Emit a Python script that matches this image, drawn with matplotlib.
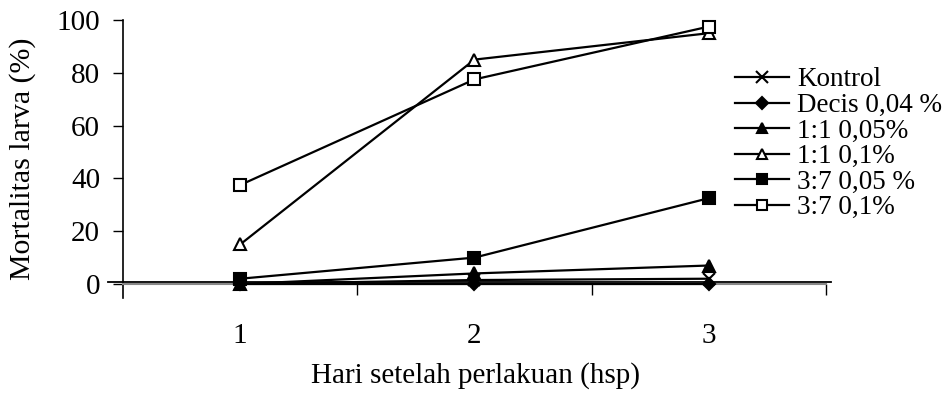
import matplotlib
matplotlib.use("Agg")
import matplotlib.pyplot as plt
import matplotlib.transforms as mtransforms

# days after treatment
days = [1, 2, 3]
day_labels = ["1", "2", "3"]

# larval mortality (%) per treatment
kontrol = [0, 1.5, 2]
decis = [0, 0, 0]
p11_005 = [0, 4, 7]
p11_01 = [15, 85, 95]
p37_005 = [2, 10, 32.5]
p37_01 = [37.5, 77.5, 97.5]

series = [
    ("Kontrol", kontrol, "x", "black"),
    ("Decis 0,04 %", decis, "D", "black"),
    ("1:1 0,05%", p11_005, "^", "black"),
    ("1:1 0,1%", p11_01, "^", "white"),
    ("3:7 0,05 %", p37_005, "s", "black"),
    ("3:7 0,1%", p37_01, "s", "white"),
]

plt.rcParams["font.family"] = ["Liberation Serif", "DejaVu Serif"]

fig = plt.figure(figsize=(9.47, 3.97), dpi=100)
ax = fig.add_axes([0.130, 0.2494, 0.742, 0.7002])

for label, vals, marker, face in series:
    ms = 6 if marker == "D" else 8
    if marker == "x":
        ms = 9
    ax.plot(days, vals, color="black", lw=1.6, marker=marker, markersize=ms,
            markerfacecolor=face, markeredgecolor="black", markeredgewidth=1.5,
            label=label, clip_on=False, zorder=3)

ax.set_xlim(0.5, 3.5)
ax.set_ylim(-5.3, 100)

for s in ["top", "right"]:
    ax.spines[s].set_visible(False)
ax.spines["bottom"].set_position(("data", 0))
ax.spines["bottom"].set_color("#888888")
ax.spines["bottom"].set_linewidth(1.5)
ax.spines["left"].set_linewidth(1.2)

# extra black line just above the axis, as in the original
trans = mtransforms.blended_transform_factory(ax.transAxes, ax.transData)
ax.plot([-0.022, 1.008], [0.9, 0.9], color="black", lw=1.3, transform=trans,
        clip_on=False, zorder=2)

ax.set_yticks([0, 20, 40, 60, 80, 100])
ax.tick_params(axis="y", direction="out", length=7.5, width=1, labelsize=21, pad=9)

ax.set_xticks([1.5, 2.5, 3.5])
ax.set_xticklabels([])
ax.set_xticks(days, minor=True)
ax.set_xticklabels(day_labels, minor=True)
ax.tick_params(axis="x", which="major", direction="out", length=8, width=1)
ax.tick_params(axis="x", which="minor", length=0, labelsize=21, pad=28)

ax.set_ylabel("Mortalitas larva (%)", fontsize=21.5, va="center")
ax.yaxis.set_label_coords(-0.143, 0.5)
fig.text(0.502, 0.055, "Hari setelah perlakuan (hsp)", fontsize=21,
         ha="center", va="center")

ax.legend(loc="upper left", bbox_to_anchor=(0.776, 0.830),
          bbox_transform=fig.transFigure, frameon=False, fontsize=19.5,
          handlelength=2.0, handletextpad=0.3, labelspacing=0.02,
          borderaxespad=0, borderpad=0, markerscale=0.95)

fig.savefig("out.png", dpi=100)
